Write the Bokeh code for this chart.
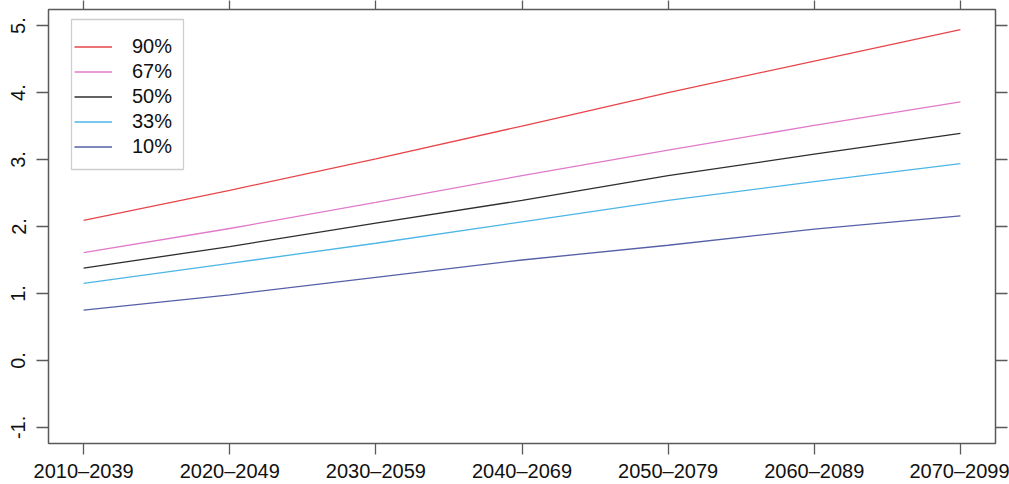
from bokeh.plotting import figure
from bokeh.models import (Range1d, FixedTicker, LinearAxis, Legend, LegendItem,
                          BoxAnnotation)
from bokeh.embed import file_html
from bokeh.resources import INLINE

# Projected change per 30-year period, by percentile
periods = ["2010\u20132039", "2020\u20132049", "2030\u20132059", "2040\u20132069",
           "2050\u20132079", "2060\u20132089", "2070\u20132099"]
p90 = [2.09, 2.54, 3.01, 3.50, 4.00, 4.47, 4.94]
p67 = [1.61, 1.97, 2.36, 2.76, 3.14, 3.51, 3.86]
p50 = [1.38, 1.70, 2.05, 2.39, 2.76, 3.08, 3.39]
p33 = [1.15, 1.45, 1.75, 2.07, 2.39, 2.67, 2.94]
p10 = [0.75, 0.98, 1.24, 1.50, 1.72, 1.96, 2.16]

series_labels = ["90%", "67%", "50%", "33%", "10%"]
series_values = [p90, p67, p50, p33, p10]
series_colors = ["#E8454A", "#E07ACB", "#2E2E2E", "#4DB6E6", "#5560A8"]

y_ticks = [-1, 0, 1, 2, 3, 4, 5]
y_tick_labels = ["-1.", "0.", "1.", "2.", "3.", "4.", "5."]

FONT = "Liberation Sans"
AXIS_GREY = "#5a5a5a"
TEXT = "#111111"

x = list(range(1, len(periods) + 1))

p = figure(width=1009, height=484, output_backend="svg", toolbar_location=None,
           x_range=Range1d(0.76, 7.24), y_range=Range1d(-1.24, 5.24),
           x_axis_location=None, y_axis_location=None,
           min_border_left=48, min_border_right=14,
           min_border_top=9, min_border_bottom=40)
p.grid.visible = False
p.background_fill_color = "white"
p.border_fill_color = "white"
p.outline_line_color = AXIS_GREY
p.outline_line_width = 1.5

def make_axis(side, ticker, overrides, show_labels, tick_out, orientation=None,
              standoff=8):
    ax = LinearAxis(ticker=ticker, major_label_overrides=overrides)
    ax.axis_line_color = None
    ax.major_tick_line_color = AXIS_GREY
    ax.major_tick_line_width = 1.3
    ax.major_tick_out = tick_out
    ax.major_tick_in = 0
    ax.minor_tick_line_color = None
    if show_labels:
        ax.major_label_text_font = FONT
        ax.major_label_text_font_size = "20px"
        ax.major_label_text_color = TEXT
        ax.major_label_standoff = standoff
    else:
        ax.major_label_text_font_size = "1px"
        ax.major_label_standoff = 0
    if orientation is not None:
        ax.major_label_orientation = orientation
    p.add_layout(ax, side)
    return ax

x_ticker = FixedTicker(ticks=x)
y_ticker = FixedTicker(ticks=y_ticks)
x_over = {i: lab for i, lab in zip(x, periods)}
y_over = {t: lab for t, lab in zip(y_ticks, y_tick_labels)}

make_axis("below", x_ticker, x_over, True, 11, standoff=5)
make_axis("left", y_ticker, y_over, True, 12, orientation="vertical", standoff=11)
# tick marks only on the top and right sides of the box
make_axis("above", x_ticker, {i: "" for i in x}, False, 9)
make_axis("right", y_ticker, {t: "" for t in y_ticks}, False, 12)

items = []
for lab, vals, col in zip(series_labels, series_values, series_colors):
    r = p.line(x, vals, line_color=col, line_width=1.3)
    items.append(LegendItem(label=lab, renderers=[r]))

# Legend frame
p.add_layout(BoxAnnotation(left=71, right=183, top=19, bottom=169,
                           left_units="canvas", right_units="canvas",
                           top_units="canvas", bottom_units="canvas",
                           fill_color="white", fill_alpha=1.0,
                           line_color=AXIS_GREY, line_width=1.3, level="annotation"))

legend = Legend(items=items, location="top_left", margin=26, padding=4,
                spacing=2, label_height=21, glyph_height=21, glyph_width=38,
                label_standoff=20, border_line_color=None,
                background_fill_alpha=0.0,
                label_text_font=FONT, label_text_font_size="20px",
                label_text_color=TEXT)
p.add_layout(legend)

open("out.html", "w").write(file_html(p, INLINE))
